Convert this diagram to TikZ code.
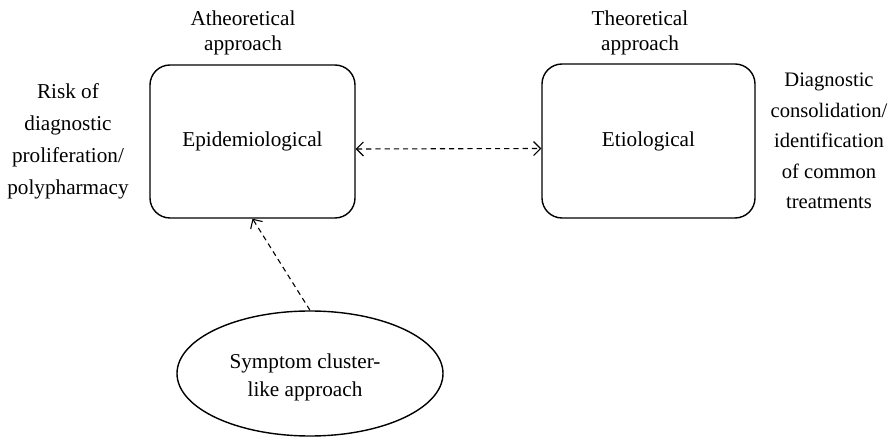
\documentclass[tikz,border=0pt]{standalone}
\usepackage{fontspec}
\setmainfont{Liberation Serif}
\usetikzlibrary{arrows.meta,shapes.geometric}
\begin{document}
\begin{tikzpicture}[x=0.5pt,y=-0.5pt,
  box/.style={draw,line width=0.7pt,rounded corners=10pt,inner sep=0pt},
  txt/.style={align=center,inner sep=0pt},
  dline/.style={line width=0.55pt,dash pattern=on 2.6pt off 2pt,{Straight Barb[length=3.5pt,width=7pt]}-{Straight Barb[length=3.5pt,width=7pt]}},
  uline/.style={line width=0.55pt,dash pattern=on 2.6pt off 2pt,-{Straight Barb[length=3.5pt,width=7pt]}}]
\useasboundingbox (0,0) rectangle (890,438);
\node[box,minimum width=102.5pt,minimum height=76.5pt,font={\fontsize{10.6}{13}\selectfont}] (L) at (252.5,141.5) {Epidemiological};
\node[box,minimum width=106.5pt,minimum height=77pt,font={\fontsize{10.6}{13}\selectfont}] (R) at (648.5,141) {Etiological};
\node[draw,ellipse,line width=0.7pt,minimum width=133pt,minimum height=62.5pt,inner sep=0pt] (E) at (310,373.5) {};
\node[txt,font={\fontsize{10.6}{14}\selectfont}] (Et) at (305,377) {Symptom cluster-\\like approach};
\node[txt,font={\fontsize{10.6}{12.5}\selectfont}] (A) at (243,33) {Atheoretical\\approach};
\node[txt,font={\fontsize{10.6}{12.5}\selectfont}] (T) at (640,33) {Theoretical\\approach};
\node[txt,font={\fontsize{10.6}{16}\selectfont}] (RL) at (68,141) {Risk of\\diagnostic\\proliferation/\\polypharmacy};
\node[txt,font={\fontsize{10.3}{15.25}\selectfont}] (RR) at (829,141) {Diagnostic\\consolidation/\\identification\\of common\\treatments};
\draw[dline] ([yshift=-3.75pt]L.east) -- ([yshift=-3.75pt]R.west);
\draw[uline] (E.north) -- (L.south);
\end{tikzpicture}
\end{document}
